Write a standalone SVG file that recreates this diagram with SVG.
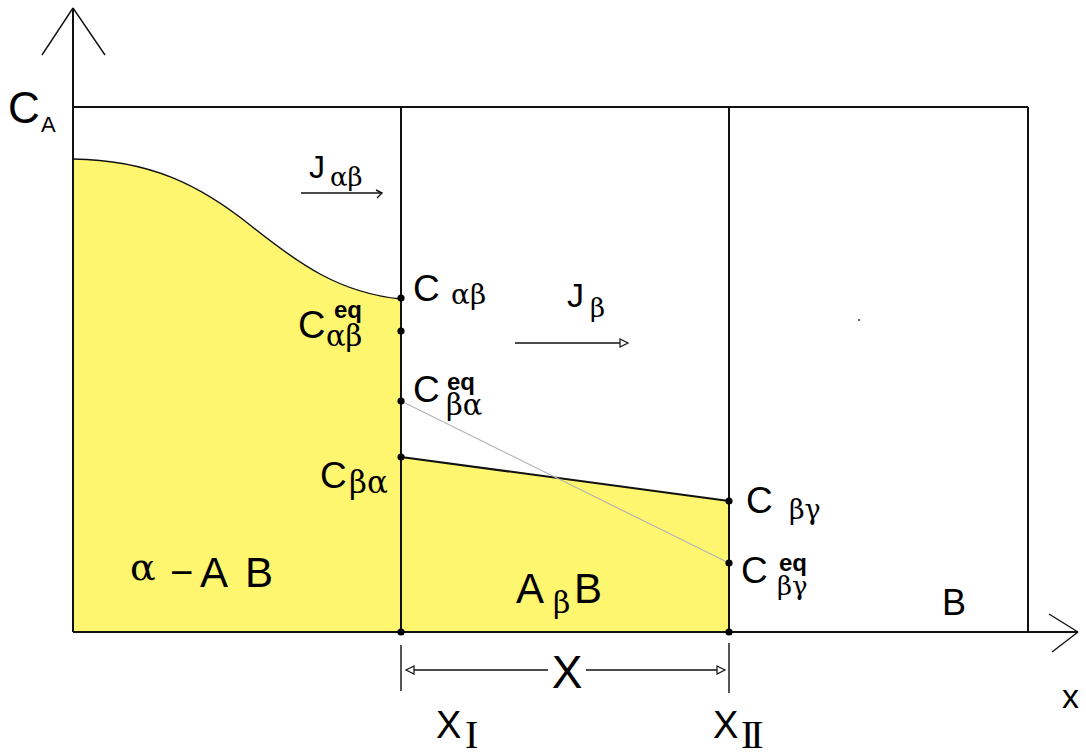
<svg xmlns="http://www.w3.org/2000/svg" width="1086" height="756" viewBox="0 0 1086 756">
<style>
.ln{stroke:#111;stroke-width:2;fill:none}
.thin{stroke:#111;stroke-width:1.4;fill:none}
.fill{fill:#fff670;stroke:none}
.s{font-family:"Liberation Sans",Arial,sans-serif;fill:#000}
.g{font-family:"DejaVu Serif","Liberation Serif",serif;fill:#000}
.r{font-family:"Liberation Serif","Times New Roman",serif;fill:#000}
.b{font-family:"Liberation Sans",Arial,sans-serif;font-weight:bold;fill:#000}
.dot{fill:#000}
.tri{fill:#fff;stroke:#111;stroke-width:1.2}
</style>
<rect width="1086" height="756" fill="#fff"/>
<g id="regions">
<path class="fill" d="M73,159 C150,160 200,185 250,225 C300,265 340,293 401,299 L401,632 L73,632 Z"/>
<path class="fill" d="M401,457 L729,501 L729,632 L401,632 Z"/>
</g>
<g id="frame">
<line class="ln" x1="73" y1="8" x2="73" y2="632"/>
<line class="thin" x1="73" y1="8" x2="42" y2="55"/>
<line class="thin" x1="73" y1="8" x2="105" y2="55"/>
<line class="ln" x1="73" y1="632" x2="1078" y2="632"/>
<line class="thin" x1="1078" y1="632" x2="1049" y2="614"/>
<line class="thin" x1="1078" y1="632" x2="1052" y2="652"/>
<line class="ln" x1="73" y1="107" x2="1028" y2="107"/>
<line class="ln" x1="1028" y1="107" x2="1028" y2="632"/>
<line class="ln" x1="401" y1="107" x2="401" y2="632"/>
<line class="ln" x1="729" y1="107" x2="729" y2="632"/>
</g>
<g id="connectors">
<path class="thin" d="M73,159 C150,160 200,185 250,225 C300,265 340,293 401,299"/>
<line class="ln" x1="401" y1="457" x2="729" y2="501"/>
<line x1="401" y1="401" x2="729" y2="563" stroke="#b4b4b4" stroke-width="1.2"/>
<line class="thin" x1="301" y1="193" x2="382" y2="193"/>
<polyline class="thin" points="376,190 382,193 377,198"/>
<line class="thin" x1="515" y1="343" x2="621" y2="343"/>
<polygon class="tri" points="620,339 628,343 620,347"/>
<line class="thin" x1="401" y1="645" x2="401" y2="691"/>
<line class="thin" x1="729" y1="643" x2="729" y2="693"/>
<line class="thin" x1="414" y1="670" x2="548" y2="670"/>
<polygon class="tri" points="414,666 406,670 414,674"/>
<line class="thin" x1="586" y1="670" x2="718" y2="670"/>
<polygon class="tri" points="717,666 725,670 717,674"/>
<rect x="858" y="319" width="2" height="2" fill="#666"/>
</g>
<g id="points">
<circle class="dot" cx="401" cy="298" r="3.6"/>
<circle class="dot" cx="401" cy="331" r="3.6"/>
<circle class="dot" cx="401" cy="401" r="3.6"/>
<circle class="dot" cx="401" cy="457" r="3.6"/>
<circle class="dot" cx="401" cy="632" r="3.6"/>
<circle class="dot" cx="729" cy="501" r="3.6"/>
<circle class="dot" cx="729" cy="563" r="3.6"/>
<circle class="dot" cx="729" cy="632" r="3.6"/>
</g>
<g id="label-CA">
<text class="s" x="8" y="123" font-size="44">C</text>
<text class="s" x="41" y="132" font-size="22">A</text>
</g>
<g id="label-Jab">
<text class="s" x="309" y="178" font-size="32">J</text>
<text class="g" x="330" y="186" font-size="26">αβ</text>
</g>
<g id="label-Jb">
<text class="s" x="567" y="307" font-size="34">J</text>
<text class="g" x="590" y="317" font-size="26">β</text>
</g>
<g id="label-Cab">
<text class="s" x="413" y="301" font-size="37">C</text>
<text class="g" x="451" y="304" font-size="28">αβ</text>
</g>
<g id="label-Cab-eq">
<text class="s" x="298" y="338" font-size="38">C</text>
<text class="b" x="334" y="318" font-size="24">eq</text>
<text class="g" x="326" y="346" font-size="29">αβ</text>
</g>
<g id="label-Cba-eq">
<text class="s" x="413" y="402" font-size="37">C</text>
<text class="b" x="447" y="390" font-size="24">eq</text>
<text class="g" x="446" y="415" font-size="29">βα</text>
</g>
<g id="label-Cba">
<text class="s" x="320" y="488" font-size="37">C</text>
<text class="g" x="349" y="493" font-size="31">βα</text>
</g>
<g id="label-Cbg">
<text class="s" x="746" y="513" font-size="37">C</text>
<text class="g" x="789" y="519" font-size="27">βγ</text>
</g>
<g id="label-Cbg-eq">
<text class="s" x="741" y="583" font-size="37">C</text>
<text class="b" x="779" y="571" font-size="24">eq</text>
<text class="g" x="777" y="595" font-size="26">βγ</text>
</g>
<g id="phase-alpha">
<text class="g" x="130" y="580" font-size="38">α</text>
<text class="s" x="170" y="586" font-size="40">−</text>
<text class="s" x="200" y="587" font-size="42">A</text>
<text class="s" x="245" y="587" font-size="42">B</text>
</g>
<g id="phase-beta">
<text class="s" x="516" y="603" font-size="42">A</text>
<text class="g" x="553" y="613" font-size="30">β</text>
<text class="s" x="574" y="603" font-size="42">B</text>
</g>
<g id="phase-B">
<text class="s" x="942" y="615" font-size="36">B</text>
</g>
<g id="label-X">
<text class="s" x="567" y="688" font-size="46" text-anchor="middle">X</text>
</g>
<g id="label-XI">
<text class="s" x="436" y="738" font-size="38">X</text>
<text class="r" x="465" y="748" font-size="40">I</text>
</g>
<g id="label-XII">
<text class="s" x="713" y="738" font-size="38">X</text>
<text class="r" x="741" y="748" font-size="40" letter-spacing="-4">II</text>
</g>
<g id="label-x">
<text class="s" x="1062" y="708" font-size="34">x</text>
</g>
</svg>
